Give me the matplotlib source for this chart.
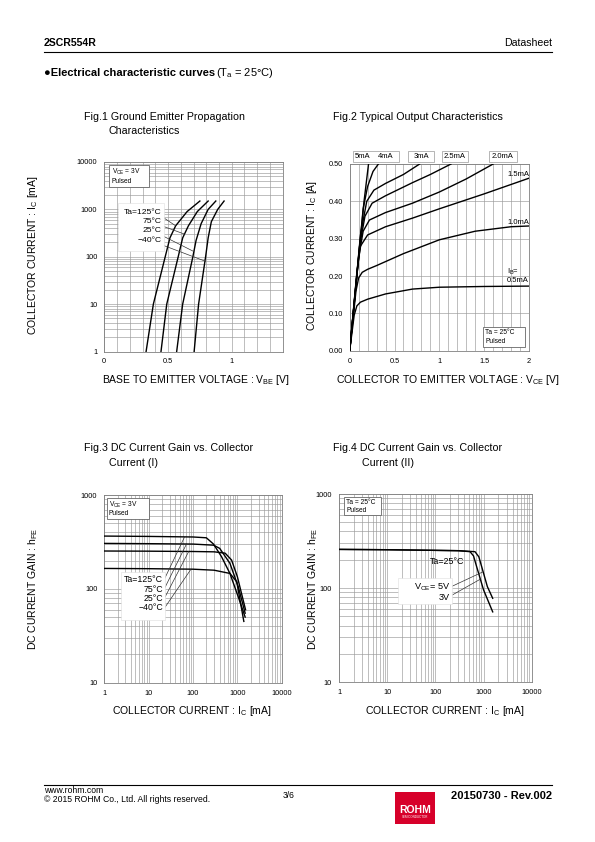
import matplotlib
matplotlib.use("Agg")
import matplotlib.pyplot as plt
from matplotlib.patches import Rectangle
from matplotlib.ticker import MultipleLocator, FixedLocator, FixedFormatter, LogLocator, NullFormatter

plt.rcParams['font.family'] = ['Liberation Sans', 'DejaVu Sans']
plt.rcParams['mathtext.fontset'] = 'custom'
plt.rcParams['mathtext.rm'] = 'Liberation Sans'
plt.rcParams['mathtext.it'] = 'Liberation Sans:italic'
plt.rcParams['mathtext.bf'] = 'Liberation Sans:bold'

W, H = 595, 842

# ---- Fig.1  Ic vs Vbe (Vce=3V) ----
temps = ['Ta=125°C', '75°C', '25°C', '−40°C']
vbe_125 = [0.328, 0.385, 0.478, 0.515, 0.56, 0.65, 0.75]
ic_125 = [1, 10, 100, 250, 450, 900, 1500]
vbe_75 = [0.445, 0.49, 0.58, 0.615, 0.66, 0.73, 0.815]
ic_75 = [1, 10, 100, 250, 450, 900, 1500]
vbe_25 = [0.568, 0.615, 0.695, 0.72, 0.76, 0.815, 0.875]
ic_25 = [1, 10, 100, 220, 500, 1000, 1500]
vbe_m40 = [0.705, 0.74, 0.795, 0.815, 0.84, 0.89, 0.94]
ic_m40 = [1, 10, 100, 250, 550, 1000, 1500]
fig1_xticks = [0, 0.5, 1]
fig1_xlabels = ['0', '0.5', '1']
fig1_yticks = [1, 10, 100, 1000, 10000]

# ---- Fig.2  Ic vs Vce (Ta=25C) ----
ib_labels = ['0.5mA', '1.0mA', '1.5mA', '2.0mA', '2.5mA', '3mA', '4mA', '5mA']
vce_05 = [0, 0.05, 0.08, 0.12, 0.2, 0.4, 0.7, 1.0, 1.5, 2.0]
ic_05 = [0, 0.095, 0.12, 0.13, 0.138, 0.152, 0.165, 0.170, 0.172, 0.173]
vce_10 = [0, 0.07, 0.1, 0.14, 0.2, 0.3, 0.6, 1.0, 1.4, 1.8, 2.0]
ic_10 = [0, 0.16, 0.195, 0.21, 0.218, 0.228, 0.26, 0.297, 0.32, 0.332, 0.334]
vce_15 = [0, 0.08, 0.12, 0.2, 0.4, 0.7, 1.0, 1.5, 2.0]
ic_15 = [0, 0.21, 0.28, 0.31, 0.332, 0.355, 0.38, 0.42, 0.462]
vce_20 = [0, 0.1, 0.15, 0.22, 0.4, 0.7, 1.0, 1.3, 1.6]
ic_20 = [0, 0.25, 0.32, 0.35, 0.37, 0.395, 0.425, 0.46, 0.5]
vce_25 = [0, 0.11, 0.17, 0.25, 0.4, 0.7, 0.9, 1.13]
ic_25b = [0, 0.28, 0.36, 0.395, 0.415, 0.45, 0.472, 0.5]
vce_30 = [0, 0.12, 0.19, 0.27, 0.4, 0.6, 0.78]
ic_30 = [0, 0.31, 0.4, 0.43, 0.448, 0.472, 0.5]
vce_40 = [0, 0.15, 0.2, 0.26, 0.32]
ic_40 = [0, 0.38, 0.44, 0.48, 0.5]
vce_50 = [0, 0.1, 0.16, 0.21]
ic_50 = [0, 0.25, 0.4, 0.5]
fig2_xticks = [0, 0.5, 1, 1.5, 2]
fig2_xlabels = ['0', '0.5', '1', '1.5', '2']
fig2_yticks = [0, 0.1, 0.2, 0.3, 0.4, 0.5]

# ---- Fig.3  hFE vs Ic (Vce=3V) ----
i3_125 = [1, 10, 100, 200, 290, 440, 680, 1050, 1500]
h3_125 = [365, 362, 357, 350, 300, 220, 146, 82, 50]
i3_75 = [1, 10, 100, 290, 400, 680, 1050, 1500]
h3_75 = [305, 303, 300, 292, 270, 187, 105, 55]
i3_25 = [1, 10, 100, 300, 530, 740, 1000, 1530]
h3_25 = [253, 252, 250, 248, 240, 203, 135, 60]
i3_m40 = [1, 10, 100, 300, 680, 970, 1400]
h3_m40 = [165, 164, 162, 158, 146, 119, 45]
ic_ticks = [1, 10, 100, 1000, 10000]
hfe_ticks = [10, 100, 1000]

# ---- Fig.4  hFE vs Ic (Ta=25C) ----
i4_5v = [1, 10, 100, 300, 665, 800, 916, 1200, 1550]
h4_5v = [258, 256, 252, 250, 244, 215, 169, 104, 78]
i4_3v = [1, 10, 100, 300, 525, 620, 720, 1000, 1550]
h4_3v = [258, 256, 252, 250, 244, 220, 169, 96, 56]

fig = plt.figure(figsize=(W / 100, H / 100), dpi=100)


def rect(l, t, r, b):
    return [l / W, 1 - b / H, (r - l) / W, (b - t) / H]


def ftext(x, y, s, **kw):
    kw.setdefault('va', 'center')
    return fig.text(x / W, 1 - y / H, s, **kw)


def fbox(l, t, r, b, ec='#666666', lw=0.6, z=2.5):
    fig.add_artist(Rectangle((l / W, 1 - b / H), (r - l) / W, (b - t) / H,
                             transform=fig.transFigure, facecolor='white',
                             edgecolor=ec, linewidth=lw, zorder=z))


def style(ax):
    for s in ax.spines.values():
        s.set_color('#7f7f7f')
        s.set_linewidth(0.6)
    ax.tick_params(which='both', length=0, labelsize=5.3, pad=5)
    ax.set_axisbelow(True)


def lead(ax, xy, x, y):
    ax.annotate('', xy=xy, xycoords='data', xytext=(x, H - y),
                textcoords='figure pixels',
                arrowprops=dict(arrowstyle='-', color='#333333', lw=0.5,
                                shrinkA=0, shrinkB=0), zorder=4)


LW = 1.0

# ---------------- header ----------------
ftext(44, 43, '2SCR554R', fontsize=7.6, fontweight='bold', ha='left')
ftext(552, 43, 'Datasheet', fontsize=7.6, ha='right')
fig.add_artist(plt.Line2D([44 / W, 552 / W], [1 - 51.5 / H, 1 - 51.5 / H],
                          color='black', lw=0.8, transform=fig.transFigure))
ftext(44, 73, '●Electrical characteristic curves', fontsize=8,
      fontweight='bold', ha='left')
ftext(216, 73, '(T$_{\\mathrm{a}}$ = 25°C)', fontsize=8, ha='left')

# ---------------- Fig.1 ----------------
ftext(84, 117, 'Fig.1 Ground Emitter Propagation', fontsize=7.7, ha='left')
ftext(109, 131, 'Characteristics', fontsize=7.7, ha='left')
ax1 = fig.add_axes(rect(104.3, 162, 282.7, 351.5))
style(ax1)
ax1.set_yscale('log')
ax1.set_xlim(0, 1.4)
ax1.set_ylim(1, 10000)
ax1.xaxis.set_major_locator(FixedLocator(fig1_xticks))
ax1.xaxis.set_major_formatter(FixedFormatter(fig1_xlabels))
ax1.xaxis.set_minor_locator(MultipleLocator(0.1))
ax1.yaxis.set_major_locator(FixedLocator(fig1_yticks))
ax1.yaxis.set_major_formatter(FixedFormatter([str(v) for v in fig1_yticks]))
ax1.yaxis.set_minor_locator(LogLocator(base=10, subs=range(2, 10)))
ax1.yaxis.set_minor_formatter(NullFormatter())
ax1.grid(which='both', color='#9a9a9a', linewidth=0.45)
for vx, iy in [(vbe_125, ic_125), (vbe_75, ic_75), (vbe_25, ic_25), (vbe_m40, ic_m40)]:
    ax1.plot(vx, iy, color='black', lw=LW, zorder=3)
fbox(109.3, 165, 149.3, 187.3)
ftext(111.5, 171.5, 'V$_{\\mathrm{CE}}$ = 3V', fontsize=4.8, ha='left', zorder=3)
ftext(111.5, 181.5, 'Pulsed', fontsize=4.8, ha='left', zorder=3)
fbox(118, 203, 164, 251, ec='#dddddd', lw=0.4)
for k, (lab, yy) in enumerate(zip(temps, [212, 221.5, 230.5, 240])):
    ftext(162, yy, lab, fontsize=6.1, ha='right', zorder=3)
lead(ax1, (0.56, 450), 161, 216)
lead(ax1, (0.63, 300), 161, 225.5)
lead(ax1, (0.70, 130), 161, 235)
lead(ax1, (0.795, 80), 161, 244.5)
ftext(196, 380, 'BASE TO EMITTER VOLTAGE : V$_{\\mathrm{BE}}$ [V]', fontsize=7.5, ha='center')
ftext(33, 255, 'COLLECTOR CURRENT : I$_{\\mathrm{C}}$ [mA]', fontsize=7.5,
      ha='center', rotation=90)

# ---------------- Fig.2 ----------------
ftext(333, 117, 'Fig.2 Typical Output Characteristics', fontsize=7.7, ha='left')
ax2 = fig.add_axes(rect(349.7, 164, 529, 350.7))
style(ax2)
ax2.set_xlim(0, 2)
ax2.set_ylim(0, 0.5)
ax2.xaxis.set_major_locator(FixedLocator(fig2_xticks))
ax2.xaxis.set_major_formatter(FixedFormatter(fig2_xlabels))
ax2.xaxis.set_minor_locator(MultipleLocator(0.1))
ax2.yaxis.set_major_locator(FixedLocator(fig2_yticks))
ax2.yaxis.set_major_formatter(FixedFormatter(['%.2f' % v for v in fig2_yticks]))
ax2.grid(which='both', axis='x', color='#9a9a9a', linewidth=0.45)
ax2.grid(which='major', axis='y', color='#9a9a9a', linewidth=0.45)
for vx, iy in [(vce_05, ic_05), (vce_10, ic_10), (vce_15, ic_15), (vce_20, ic_20),
               (vce_25, ic_25b), (vce_30, ic_30), (vce_40, ic_40), (vce_50, ic_50)]:
    ax2.plot(vx, iy, color='black', lw=LW, zorder=3, clip_on=True)
fbox(353.3, 151, 399.3, 161.7, ec='#999999', lw=0.5)
fbox(408.3, 151, 434, 161.7, ec='#999999', lw=0.5)
fbox(441.7, 151, 468.3, 161.7, ec='#999999', lw=0.5)
fbox(489.3, 151, 516.7, 161.7, ec='#999999', lw=0.5)
ftext(363, 156.5, ib_labels[7], fontsize=5.5, ha='center', zorder=3)
ftext(386, 156.5, ib_labels[6], fontsize=5.5, ha='center', zorder=3)
ftext(421, 156.5, ib_labels[5], fontsize=5.5, ha='center', zorder=3)
ftext(455, 156.5, ib_labels[4], fontsize=5.5, ha='center', zorder=3)
ftext(503, 156.5, ib_labels[3], fontsize=5.5, ha='center', zorder=3)
ftext(529, 174, ib_labels[2], fontsize=5.5, ha='right', zorder=3)
ftext(529, 222, ib_labels[1], fontsize=5.5, ha='right', zorder=3)
ftext(507, 272, 'I$_{\\mathrm{B}}$=', fontsize=5.5, ha='left', zorder=3)
ftext(529, 281, ib_labels[0], fontsize=5.5, ha='right', zorder=3)
fbox(482.7, 326.7, 525, 346.7)
ftext(485, 332.5, 'Ta = 25°C', fontsize=4.8, ha='left', zorder=3)
ftext(485, 341.5, 'Pulsed', fontsize=4.8, ha='left', zorder=3)
ftext(448, 380, 'COLLECTOR TO EMITTER VOLTAGE : V$_{\\mathrm{CE}}$ [V]', fontsize=7.5, ha='center')
ftext(312, 255, 'COLLECTOR CURRENT : I$_{\\mathrm{C}}$ [A]', fontsize=7.5,
      ha='center', rotation=90)


def log_axes(ax, ylo, yhi, yt):
    style(ax)
    ax.set_xscale('log')
    ax.set_yscale('log')
    ax.set_xlim(1, 10000)
    ax.set_ylim(ylo, yhi)
    ax.xaxis.set_major_locator(FixedLocator(ic_ticks))
    ax.xaxis.set_major_formatter(FixedFormatter([str(v) for v in ic_ticks]))
    ax.yaxis.set_major_locator(FixedLocator(yt))
    ax.yaxis.set_major_formatter(FixedFormatter([str(v) for v in yt]))
    for a in (ax.xaxis, ax.yaxis):
        a.set_minor_locator(LogLocator(base=10, subs=range(2, 10)))
        a.set_minor_formatter(NullFormatter())
    ax.grid(which='both', color='#9a9a9a', linewidth=0.45)


# ---------------- Fig.3 ----------------
ftext(84, 448, 'Fig.3 DC Current Gain vs. Collector', fontsize=7.7, ha='left')
ftext(109, 463, 'Current (I)', fontsize=7.7, ha='left')
ax3 = fig.add_axes(rect(104.3, 495, 281.7, 682.7))
log_axes(ax3, 10, 1000, hfe_ticks)
for ix, hy in [(i3_125, h3_125), (i3_75, h3_75), (i3_25, h3_25), (i3_m40, h3_m40)]:
    ax3.plot(ix, hy, color='black', lw=LW, zorder=3)
fbox(106.7, 498.3, 149.3, 519)
ftext(109, 504.5, 'V$_{\\mathrm{CE}}$ = 3V', fontsize=4.8, ha='left', zorder=3)
ftext(109, 513.5, 'Pulsed', fontsize=4.8, ha='left', zorder=3)
fbox(121, 571.5, 165, 620, ec='#dddddd', lw=0.4)
for lab, yy in zip(temps, [579.5, 589, 598.5, 608]):
    ftext(163, yy, lab, fontsize=6.3, ha='right', zorder=3)
lead(ax3, (65, 360), 163.5, 581)
lead(ax3, (72, 303), 163.5, 590.5)
lead(ax3, (80, 250), 163.5, 600)
lead(ax3, (90, 162), 163.5, 609.5)
ftext(192, 711, 'COLLECTOR CURRENT : I$_{\\mathrm{C}}$ [mA]', fontsize=7.5, ha='center')
ftext(33, 589, 'DC CURRENT GAIN : h$_{\\mathrm{FE}}$', fontsize=7.5,
      ha='center', rotation=90)

# ---------------- Fig.4 ----------------
ftext(333, 448, 'Fig.4 DC Current Gain vs. Collector', fontsize=7.7, ha='left')
ftext(362, 463, 'Current (II)', fontsize=7.7, ha='left')
ax4 = fig.add_axes(rect(339, 494, 531.7, 682.3))
log_axes(ax4, 10, 1000, hfe_ticks)
for ix, hy in [(i4_5v, h4_5v), (i4_3v, h4_3v)]:
    ax4.plot(ix, hy, color='black', lw=LW, zorder=3)
fbox(344.3, 497.3, 380.7, 515)
ftext(346.5, 502.5, 'Ta = 25°C', fontsize=4.8, ha='left', zorder=3)
ftext(346.5, 510.5, 'Pulsed', fontsize=4.8, ha='left', zorder=3)
ftext(447, 561.5, 'Ta=25°C', fontsize=6.4, ha='center', zorder=3)
fbox(398.3, 578.3, 451.7, 604, ec='#dddddd', lw=0.4)
ftext(450, 586.8, 'V$_{\\mathrm{CE}}$= 5V', fontsize=6.6, ha='right', zorder=3)
ftext(450, 597, '3V', fontsize=6.6, ha='right', zorder=3)
lead(ax4, (1000, 150), 450.5, 587)
lead(ax4, (870, 125), 450.5, 596)
ftext(445, 711, 'COLLECTOR CURRENT : I$_{\\mathrm{C}}$ [mA]', fontsize=7.5, ha='center')
ftext(313, 589, 'DC CURRENT GAIN : h$_{\\mathrm{FE}}$', fontsize=7.5,
      ha='center', rotation=90)

# ---------------- footer ----------------
fig.add_artist(plt.Line2D([44 / W, 552 / W], [1 - 785 / H, 1 - 785 / H],
                          color='black', lw=0.8, transform=fig.transFigure))
ftext(44, 790.5, 'www.rohm.com', fontsize=6.2, ha='left')
ftext(44, 799, '© 2015 ROHM Co., Ltd. All rights reserved.', fontsize=6.2, ha='left')
ftext(283, 796, '3/6', fontsize=6.2, ha='left')
fig.add_artist(Rectangle((395 / W, 1 - 824 / H), 40 / W, 32 / H,
                         transform=fig.transFigure, facecolor='#d7002a',
                         edgecolor='none'))
ftext(415, 810, 'ROHM', fontsize=7.5, fontweight='bold', color='white', ha='center')
ftext(415, 817.5, 'SEMICONDUCTOR', fontsize=2.2, color='white', ha='center')
ftext(552, 796, '20150730 - Rev.002', fontsize=8, fontweight='bold', ha='right')

fig.savefig('out.png', dpi=100)
